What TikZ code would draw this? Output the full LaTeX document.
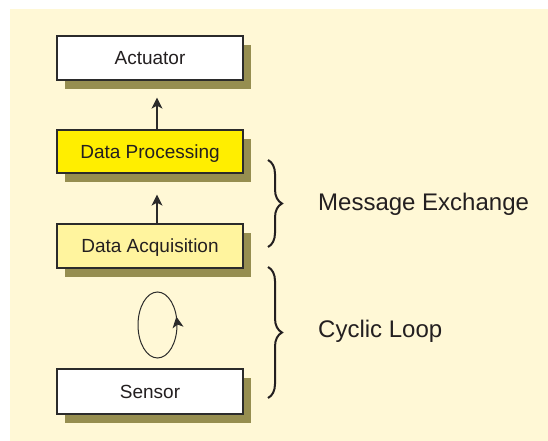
\documentclass[tikz,border=0pt]{standalone}
\usepackage{fontspec}
\setmainfont{Liberation Sans}
\usetikzlibrary{arrows.meta,shadows,decorations.pathreplacing,decorations.markings}
\definecolor{bgc}{HTML}{FFF8D6}
\definecolor{shadowc}{HTML}{968E50}
\definecolor{dpc}{HTML}{FFEE00}
\definecolor{dac}{HTML}{FFF49E}
\definecolor{txtc}{HTML}{231F20}
\definecolor{linec}{HTML}{2B2B2B}
\tikzset{
  boxnode/.style={draw=linec, line width=1.3pt, minimum width=186pt, minimum height=44pt,
    inner sep=0pt, text height=13.6pt, text depth=0pt, text=txtc, font=\fontsize{19}{22}\selectfont,
    drop shadow={shadow xshift=8pt, shadow yshift=-9pt, fill=shadowc, opacity=1}},
  flowarrow/.style={draw=linec, line width=1.2pt, -{Stealth[length=11pt,width=11pt,inset=3pt]}},
  bracestyle/.style={draw=txtc, line width=2pt, decorate, decoration={brace, amplitude=14pt, aspect=0.5}},
  bigtext/.style={text=txtc, font=\fontsize{24}{28}\selectfont, inner sep=0pt, anchor=base west}
}
\begin{document}
\begin{tikzpicture}[x=1pt,y=1pt]
\useasboundingbox (0,0) rectangle (548,441);
\fill[bgc] (10,0) rectangle (548,432);
\node[boxnode, fill=white] (act) at (150,383) {Actuator};
\node[boxnode, fill=dpc, minimum height=43pt] (dp) at (150,289.5) {Data Processing};
\node[boxnode, fill=dac] (da) at (150,195) {Data Acquisition};
\node[boxnode, fill=white, minimum height=45pt] (sen) at (150,49.5) {Sensor};
\draw[flowarrow, shorten >=17pt] ([xshift=7pt]dp.north) -- ([xshift=7pt]act.south);
\draw[flowarrow, shorten >=21pt] ([xshift=7pt]da.north) -- ([xshift=7pt]dp.south);
\draw[draw=linec, line width=1pt, postaction={decorate},
  decoration={markings, mark=at position 0.05 with {\arrow{Stealth[length=11pt,width=11pt,inset=3pt]}}}]
  (177,116) arc[start angle=0, end angle=360, x radius=19.5, y radius=33];
\coordinate (b1t) at (268,281);
\coordinate (b1b) at (268,194);
\coordinate (b2t) at (268,174);
\coordinate (b2b) at (268,43);
\draw[bracestyle] (b1t) -- (b1b);
\draw[bracestyle] (b2t) -- (b2b);
\node[bigtext] (msg) at (318,230) {Message Exchange};
\node[bigtext] (cyc) at (318,103) {Cyclic Loop};
\end{tikzpicture}
\end{document}
